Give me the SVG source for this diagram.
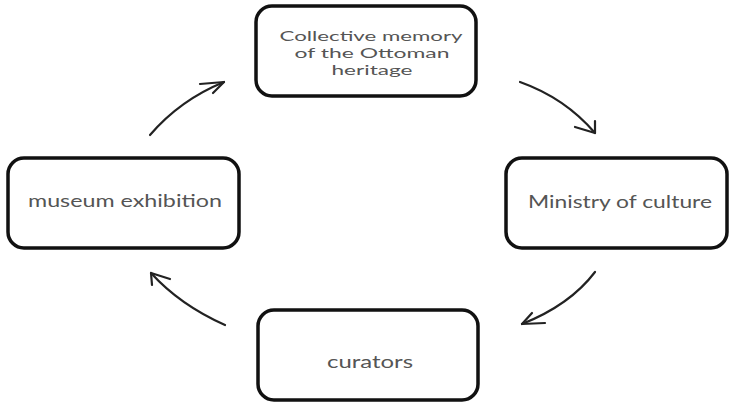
<svg xmlns="http://www.w3.org/2000/svg" width="731" height="404" viewBox="0 0 731 404">
<style>
.box{fill:#fff;stroke:#111;stroke-width:3.5}
.lbl{font-family:Lato,"Open Sans",sans-serif;font-size:17px;fill:#555;text-anchor:middle}
.sm{font-size:14px}
.arr{fill:none;stroke:#222;stroke-width:2.2;stroke-linecap:round;stroke-linejoin:round}
</style>
<rect width="731" height="404" fill="#fff"/>
<g id="node-collective">
<rect class="box" x="256" y="6" width="220" height="90" rx="16"/>
<text class="lbl sm" x="371" y="41" textLength="183" lengthAdjust="spacingAndGlyphs">Collective memory</text>
<text class="lbl sm" x="372" y="58" textLength="155" lengthAdjust="spacingAndGlyphs">of the Ottoman</text>
<text class="lbl sm" x="372" y="75" textLength="81" lengthAdjust="spacingAndGlyphs">heritage</text>
</g>
<g id="node-ministry">
<rect class="box" x="506" y="158" width="221" height="90" rx="16"/>
<text class="lbl" x="620" y="208" textLength="184" lengthAdjust="spacingAndGlyphs">Ministry of culture</text>
</g>
<g id="node-museum">
<rect class="box" x="8" y="158" width="231" height="90" rx="16"/>
<text class="lbl" x="125" y="207" textLength="194" lengthAdjust="spacingAndGlyphs">museum exhibition</text>
</g>
<g id="node-curators">
<rect class="box" x="258" y="310" width="220" height="90" rx="16"/>
<text class="lbl" x="370" y="368" textLength="86" lengthAdjust="spacingAndGlyphs">curators</text>
</g>
<g id="connectors">
<path class="arr" d="M150,135 Q180,100 224,82"/>
<path class="arr" d="M200,84 L224,82 L213,93"/>
<path class="arr" d="M520,82 Q565,98 595,133"/>
<path class="arr" d="M575,127 L595,133 L595,121"/>
<path class="arr" d="M595,272 Q570,305 522,324"/>
<path class="arr" d="M545,323 L522,324 L532,313"/>
<path class="arr" d="M225,325 Q180,305 151,273"/>
<path class="arr" d="M170,279 L151,273 L152,285"/>
</g>
</svg>
